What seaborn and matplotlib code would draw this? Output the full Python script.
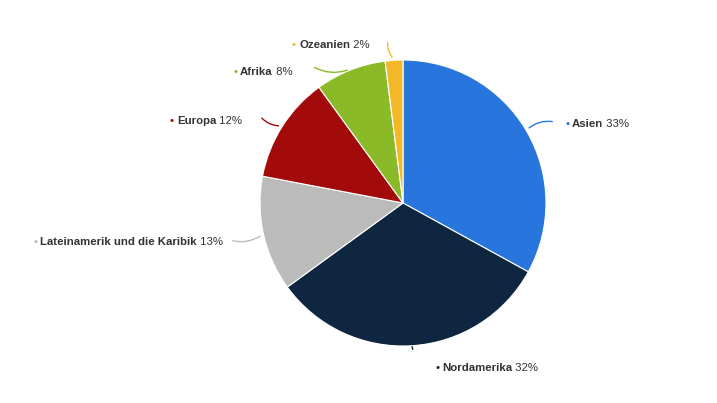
import matplotlib
matplotlib.use("Agg")
import matplotlib.pyplot as plt
import seaborn as sns
import numpy as np

sns.set_theme(style="white")
plt.rcParams['font.family'] = ['Liberation Sans', 'DejaVu Sans']

labels = ["Asien", "Nordamerika", "Lateinamerik und die Karibik", "Europa", "Afrika", "Ozeanien"]
values = [33, 32, 13, 12, 8, 2]
colors = ["#2876dd", "#0f2640", "#bbbbbb", "#a30b0b", "#8aba27", "#f2b82a"]
text_pos = [(565, 124), (435, 368), (33, 242), (170, 121), (233, 72), (292, 45)]
line_end = [(555, 122), (412, 352), (230, 240), (260, 116), (312, 66), (388, 40)]

fig = plt.figure(figsize=(7.17, 4.03), dpi=100)
ax = fig.add_axes([0, 0, 1, 1])
ax.set_xlim(0, 717); ax.set_ylim(0, 403); ax.set_aspect('equal'); ax.axis('off')
cx, cy, R = 403, 403 - 203, 143
wedges, _ = ax.pie(values, colors=colors, startangle=90, counterclock=False,
                   center=(cx, cy), radius=R, wedgeprops=dict(linewidth=0.8, edgecolor="white"))
ax.set_xlim(0, 717); ax.set_ylim(0, 403)

fig.canvas.draw()
r = fig.canvas.get_renderer()
for w, lab, v, col, (tx, ty), (lx, ly) in zip(wedges, labels, values, colors, text_pos, line_end):
    ang = np.deg2rad((w.theta1 + w.theta2) / 2)
    ex, ey = cx + (R + 1) * np.cos(ang), cy + (R + 1) * np.sin(ang)
    ax.annotate("", xy=(ex, ey), xytext=(lx, 403 - ly),
                arrowprops=dict(arrowstyle="-", color=col, lw=1,
                                connectionstyle="arc3,rad=0.25"))
    x = tx
    for s, wt, c in [("•", "normal", col), (lab, "bold", "#333333"), (f" {v}%", "normal", "#333333")]:
        t = ax.text(x, 403 - ty, s, fontsize=8.2, fontweight=wt, color=c, va="center", ha="left")
        bb = t.get_window_extent(r)
        x += bb.width + (3 if s == "•" else 0)
fig.savefig("out.png", dpi=100)
